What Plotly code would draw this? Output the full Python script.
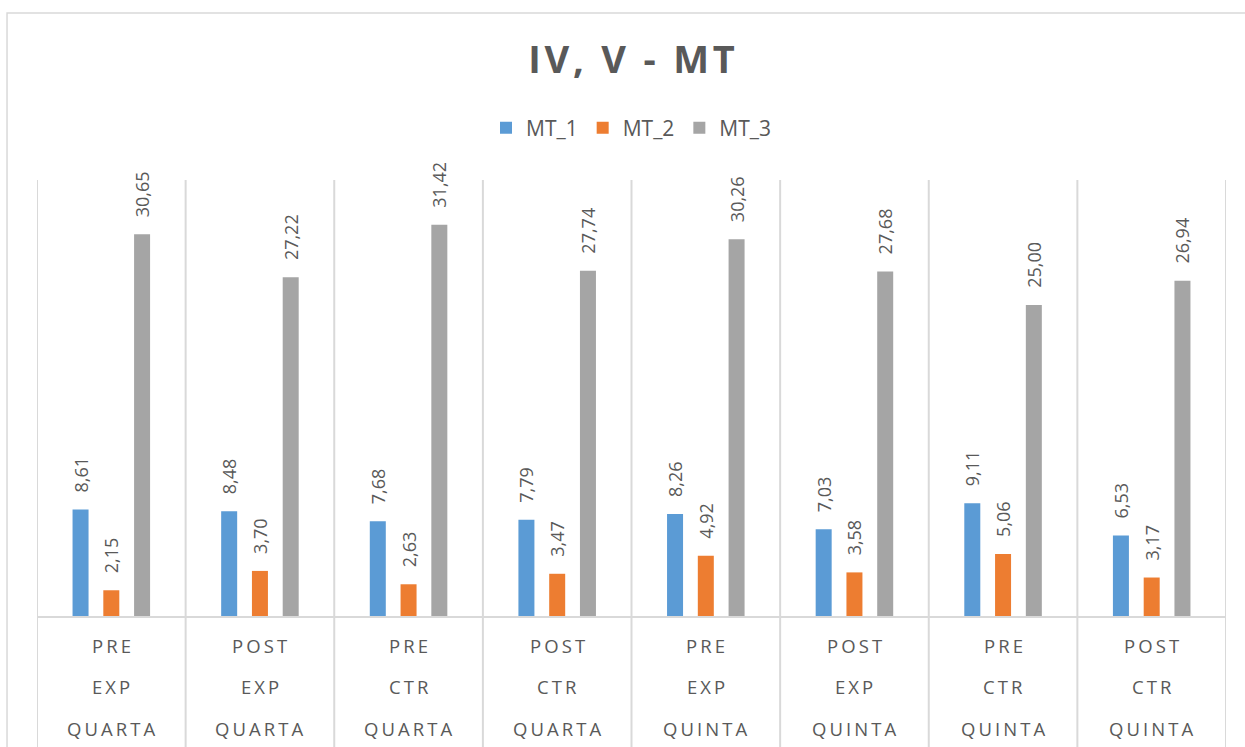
import plotly.graph_objects as go

# Three-level categories: phase / group / grade
phase = ["PRE", "POST", "PRE", "POST", "PRE", "POST", "PRE", "POST"]
group = ["EXP", "EXP", "CTR", "CTR", "EXP", "EXP", "CTR", "CTR"]
grade = ["QUARTA", "QUARTA", "QUARTA", "QUARTA", "QUINTA", "QUINTA", "QUINTA", "QUINTA"]

series_names = ["MT_1", "MT_2", "MT_3"]
mt1 = [8.61, 8.48, 7.68, 7.79, 8.26, 7.03, 9.11, 6.53]
mt2 = [2.15, 3.70, 2.63, 3.47, 4.92, 3.58, 5.06, 3.17]
mt3 = [30.65, 27.22, 31.42, 27.74, 30.26, 27.68, 25.00, 26.94]
colors = ["#5B9BD5", "#ED7D31", "#A5A5A5"]

TEXT = "#595959"
GRID = "#D9D9D9"
FONT = "Open Sans"

Y_TOP = 35
Y_BOTTOM = -10.4  # room below zero for the category label rows

keys = [f"{p} {g} {s}" for p, g, s in zip(phase, group, grade)]


def spaced(s, sep="\u2009"):
    return sep.join(s)


fig = go.Figure()
for name, vals, col in zip(series_names, [mt1, mt2, mt3], colors):
    fig.add_trace(go.Bar(
        x=keys, y=vals, name=name,
        marker=dict(color=col, line=dict(width=0)),
        texttemplate="\u00a0\u00a0\u00a0%{y:.2f}",
        textposition="outside", textangle=-90,
        constraintext="none", cliponaxis=False,
        textfont=dict(family=FONT, size=18, color=TEXT),
    ))

shapes = []
# vertical separators between categories
for i in range(len(keys) + 1):
    shapes.append(dict(type="line", xref="x", yref="y",
                       x0=i - 0.5, x1=i - 0.5, y0=Y_BOTTOM, y1=Y_TOP,
                       line=dict(color=GRID, width=2)))
# category axis line at zero
shapes.append(dict(type="line", xref="x", yref="y",
                   x0=-0.5, x1=len(keys) - 0.5, y0=0, y1=0,
                   line=dict(color=GRID, width=2)))
# outer chart frame
shapes.append(dict(type="rect", xref="paper", yref="paper",
                   x0=-0.0252, x1=1.2, y0=-0.2, y1=1.2945,
                   line=dict(color=GRID, width=1.5), fillcolor="rgba(0,0,0,0)"))

annotations = []
label_rows = [(phase, -2.24), (group, -5.52), (grade, -8.89)]
for labels, yv in label_rows:
    for k, lab in zip(keys, labels):
        annotations.append(dict(x=k, y=yv, xref="x", yref="y", text=spaced(lab),
                                showarrow=False, xanchor="center", yanchor="middle",
                                font=dict(family=FONT, size=18.5, color=TEXT)))

fig.update_layout(
    width=1245, height=747,
    margin=dict(l=37, r=19, t=180, b=0, pad=0),
    paper_bgcolor="white", plot_bgcolor="white",
    separators=",.",
    barmode="group", bargap=0.379, bargroupgap=0.48,
    title=dict(text="<b>" + spaced("IV, V - MT", "\u200a") + "</b>",
               x=0.5, xref="paper", xanchor="center",
               y=1 - 60 / 747, yref="container", yanchor="middle",
               font=dict(family=FONT, size=38, color=TEXT)),
    legend=dict(orientation="h", x=0.5, xanchor="center", y=1.0917, yanchor="middle",
                font=dict(family=FONT, size=21, color=TEXT), bgcolor="rgba(0,0,0,0)"),
    xaxis=dict(visible=False, range=[-0.5, len(keys) - 0.5]),
    yaxis=dict(visible=False, range=[Y_BOTTOM, Y_TOP]),
    shapes=shapes, annotations=annotations,
    font=dict(family=FONT, color=TEXT),
)

fig.write_html("out.html")
